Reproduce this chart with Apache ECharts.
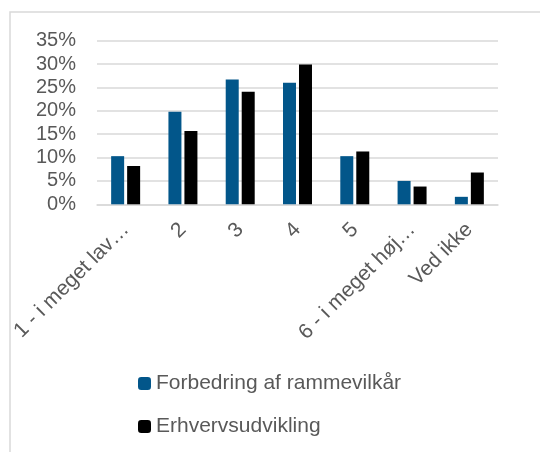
<!DOCTYPE html>
<html>
<head>
<meta charset="utf-8">
<script src="https://cdn.jsdelivr.net/npm/echarts@6/dist/echarts.min.js"></script>
<style>
  html, body { margin: 0; padding: 0; background: #fff; }
  #main { width: 540px; height: 452px; }
</style>
</head>
<body>
<div id="main"></div>
<script>
var categories = ['1 - i meget lav grad', '2', '3', '4', '5', '6 - i meget høj grad', 'Ved ikke'];
var rammevilkaar = [10.3, 19.8, 26.7, 26.0, 10.3, 5.0, 1.6];
var erhverv = [8.2, 15.7, 24.1, 29.9, 11.3, 3.8, 6.8];
var seriesNames = ['Forbedring af rammevilkår', 'Erhvervsudvikling'];

var textColor = '#595959';
var font = 'Liberation Sans';

var myChart = echarts.init(document.getElementById('main'));

option = {
    animation: false,
    textStyle: { fontFamily: font },
    // frame around the chart
    graphic: [{
        type: 'rect',
        shape: { x: 10, y: 12, width: 600, height: 500 },
        style: { fill: 'none', stroke: '#d9d9d9', lineWidth: 1.5 },
        silent: true
    }],
    grid: {
        left: 97,
        right: 42,
        top: 40.7,
        bottom: 247.7
    },
    legend: {
        orient: 'vertical',
        left: 133,
        top: 368,
        itemWidth: 13,
        itemHeight: 13,
        itemGap: 22,
        textStyle: { color: textColor, fontSize: 21, fontFamily: font },
        data: seriesNames
    },
    xAxis: {
        type: 'category',
        data: categories,
        axisLine: { lineStyle: { color: '#d9d9d9', width: 1.5 } },
        axisTick: { show: false },
        axisLabel: {
            rotate: 45,
            color: textColor,
            fontSize: 21,
            fontFamily: font,
            margin: 22,
            interval: 0,
            // long labels are cut like in the excel chart
            formatter: function(s) {
                return s.length > 15 ? s.slice(0, 15) + '…' : s;
            }
        }
    },
    yAxis: {
        type: 'value',
        min: 0,
        max: 35,
        interval: 5,
        axisLine: { show: false },
        axisTick: { show: false },
        splitLine: { lineStyle: { color: '#d9d9d9', width: 1.5 } },
        axisLabel: {
            color: textColor,
            fontSize: 20,
            fontFamily: font,
            margin: 21,
            formatter: '{value}%'
        }
    },
    series: [{
        name: seriesNames[0],
        type: 'bar',
        data: rammevilkaar,
        barWidth: 13,
        barGap: '23%',
        itemStyle: { color: '#02568a' }
    }, {
        name: seriesNames[1],
        type: 'bar',
        data: erhverv,
        barWidth: 13,
        itemStyle: { color: '#000000' }
    }]
};
myChart.setOption(option);
</script>
</body>
</html>
